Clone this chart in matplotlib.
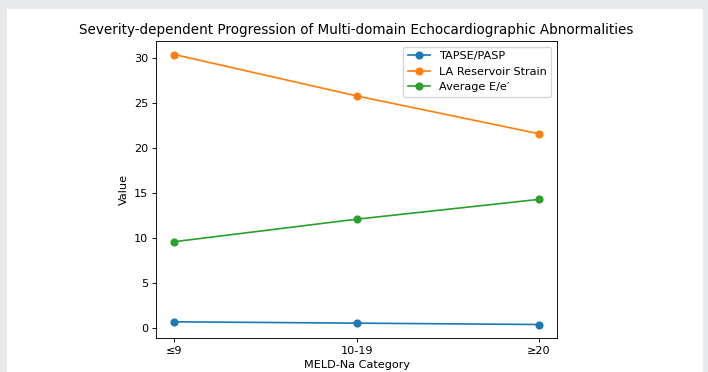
import matplotlib
matplotlib.use("Agg")
import matplotlib.pyplot as plt
from matplotlib.patches import Rectangle

categories = ["≤9", "10-19", "≥20"]
tapse_pasp = [0.7, 0.55, 0.4]
la_strain = [30.4, 25.8, 21.6]
avg_e_e = [9.6, 12.1, 14.3]

W, H = 708, 372
fig = plt.figure(figsize=(W / 100, H / 100), dpi=100, facecolor="#e8e9eb")
fig.patches.append(Rectangle((7 / W, 0), 696 / W, (H - 9) / H,
                             transform=fig.transFigure, facecolor="white",
                             edgecolor="none", zorder=-10))

s = 0.81
plt.rcParams.update({"font.size": 10 * s})

left, right, top, bottom = 156, 557, 41, 338
ax = fig.add_axes([left / W, (H - bottom) / H, (right - left) / W, (bottom - top) / H])

x = range(len(categories))
lw, ms = 1.5 * s, 6 * s
ax.plot(x, tapse_pasp, marker="o", lw=lw, ms=ms, label="TAPSE/PASP")
ax.plot(x, la_strain, marker="o", lw=lw, ms=ms, label="LA Reservoir Strain")
ax.plot(x, avg_e_e, marker="o", lw=lw, ms=ms, label="Average E/e′")

ax.set_xticks(list(x))
ax.set_xticklabels(categories)
ax.set_xlabel("MELD-Na Category", fontsize=10 * s, labelpad=4 * s)
ax.set_ylabel("Value", fontsize=10 * s, labelpad=4 * s)
ax.set_title("Severity-dependent Progression of Multi-domain Echocardiographic Abnormalities",
             fontsize=12 * s, pad=6 * s)
ax.tick_params(labelsize=10 * s, length=3.5 * s, width=0.8 * s, pad=3.5 * s)
for sp in ax.spines.values():
    sp.set_linewidth(0.8 * s)
ax.legend(loc="upper right", fontsize=10 * s)

fig.savefig("out.png", dpi=100, facecolor=fig.get_facecolor())
